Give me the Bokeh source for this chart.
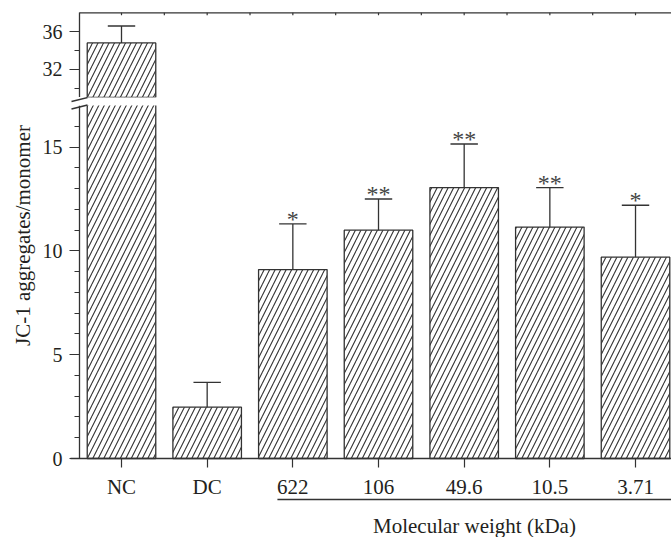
import math
from bokeh.plotting import figure
from bokeh.layouts import column
from bokeh.models import (Range1d, FixedTicker, ColumnDataSource, CDSView,
                          BooleanFilter, BoxAnnotation)
from bokeh.core.properties import value
from bokeh.embed import file_html
from bokeh.resources import INLINE

# ---- data ----
categories = ["NC", "DC", "622", "106", "49.6", "10.5", "3.71"]
means = [34.8, 2.47, 9.1, 11.0, 13.05, 11.15, 9.7]
sd = [1.8, 1.2, 2.2, 1.5, 2.1, 1.9, 2.5]
signif = ["", "", "*", "**", "**", "**", "*"]
upper_major = [32, 36]
upper_minor = [30, 34]
lower_major = [0, 5, 10, 15]
lower_minor = [1, 2, 3, 4, 6, 7, 8, 9, 11, 12, 13, 14, 16]
y_title = "JC-1 aggregates/monomer"
x_group_title = "Molecular weight (kDa)"
mw_first = "622"

# ---- layout / style ----
FONT = "Liberation Serif"
INK = "#333333"
TXT = "#231f20"
PAGE_W, PAGE_H = 671, 537
XAXIS_START = 70            # page x where the x axis line starts
AXIS_X = 79                 # page x of the y axis line
CAT0_X, CAT_STEP = 121, 85.67
X0 = -CAT0_X / CAT_STEP
X1 = X0 + PAGE_W / CAT_STEP
UP_TOP, UP_BOT = 10, 97     # page y of upper frame
UP_RANGE = (29, 38.25)
UP_AXIS_TOP = 38
LOW_BOT = 458               # page y of value 0
BREAK_VAL = 17              # lower axis ends here
LOW_SCALE = 20.76           # px per unit on the lower segment
LOW_RANGE = (-(PAGE_H - LOW_BOT) / LOW_SCALE, (LOW_BOT - UP_BOT) / LOW_SCALE)

SY_UP = (UP_BOT - UP_TOP) / (UP_RANGE[1] - UP_RANGE[0])


def px_x(px):
    return X0 + px / CAT_STEP


def px_ylow(py):
    return (LOW_BOT - py) / LOW_SCALE


xs = list(range(len(categories)))
src = ColumnDataSource(dict(
    x=xs, top=means, err=[m + s for m, s in zip(means, sd)],
    cl=[i - 0.16 for i in xs], cr=[i + 0.16 for i in xs], star=signif))
xr = Range1d(X0, X1)
AXIS_LOC = px_x(AXIS_X)


def style_axis(ax, size):
    ax.axis_line_color = INK
    ax.axis_line_width = 1.3
    ax.major_tick_line_color = INK
    ax.minor_tick_line_color = INK
    ax.major_tick_line_width = 1.2
    ax.minor_tick_line_width = 1.2
    ax.major_tick_in = 0
    ax.minor_tick_in = 0
    ax.major_label_text_font = FONT
    ax.major_label_text_font_size = size
    ax.major_label_text_color = TXT


def style_yaxis(ya, major, minor, bounds):
    ya.ticker = FixedTicker(ticks=major, minor_ticks=minor)
    ya.fixed_location = AXIS_LOC
    ya.bounds = bounds
    style_axis(ya, "20px")
    ya.major_tick_out = 10
    ya.minor_tick_out = 5
    ya.major_label_standoff = 7


def make(height, yr, top, view=None):
    p = figure(width=PAGE_W, height=height, x_range=xr, y_range=Range1d(*yr),
               output_backend="svg", toolbar_location=None,
               min_border_left=0, min_border_right=0,
               min_border_top=top, min_border_bottom=0)
    p.outline_line_color = None
    p.xgrid.visible = False
    p.ygrid.visible = False
    kw = {} if view is None else {"view": view}
    p.vbar(x="x", top="top", bottom=0, width=0.8, source=src,
           fill_color="white", line_color=INK, line_width=1.3,
           hatch_pattern="/", hatch_color=INK, hatch_scale=11, hatch_weight=1.1, **kw)
    p.segment(x0="x", y0="top", x1="x", y1="err", source=src,
              line_color=INK, line_width=1.3, **kw)
    p.segment(x0="cl", y0="err", x1="cr", y1="err", source=src,
              line_color=INK, line_width=1.3, **kw)
    return p


# ---- upper segment ----
up_view = CDSView(filter=BooleanFilter([m > UP_RANGE[0] for m in means]))
up = make(UP_BOT, UP_RANGE, UP_TOP, up_view)
up.xaxis.visible = False
style_yaxis(up.yaxis[0], upper_major, upper_minor, (UP_RANGE[0], UP_AXIS_TOP))
# top frame line with its small ticks
half = [i * 0.5 for i in range(0, 2 * len(categories) - 1)]
up.segment(x0=[AXIS_LOC], y0=[UP_AXIS_TOP], x1=[X1], y1=[UP_AXIS_TOP],
           line_color=INK, line_width=1.3)
up.segment(x0=half, y0=[UP_AXIS_TOP] * len(half), x1=half,
           y1=[UP_AXIS_TOP - 2.5 / SY_UP] * len(half), line_color=INK, line_width=1.2)

# ---- lower segment (also holds the axis titles) ----
low = make(PAGE_H - UP_BOT, LOW_RANGE, 0)
style_yaxis(low.yaxis[0], lower_major, lower_minor, (0, BREAK_VAL))
xb = low.xaxis[0]
xb.ticker = FixedTicker(ticks=xs, minor_ticks=[])
xb.major_label_overrides = {i: c for i, c in zip(xs, categories)}
xb.fixed_location = 0
xb.bounds = (px_x(XAXIS_START), X1)
style_axis(xb, "21px")
xb.major_tick_out = 9
xb.major_label_standoff = 7

# white-out the break gap, then draw the break marks over it
low.add_layout(BoxAnnotation(bottom=BREAK_VAL, fill_color="white", fill_alpha=1.0,
                             line_alpha=0))
for y0 in (101, 108.5):
    low.segment(x0=[px_x(71)], y0=[px_ylow(y0)], x1=[px_x(87)], y1=[px_ylow(y0 - 4)],
                line_color=INK, line_width=1.3, level="overlay")

low.text(x="x", y="err", text="star", source=src, text_font=value(FONT),
         text_font_size="24px", text_align="center", text_baseline="alphabetic",
         y_offset=-5, text_color="#444444")

# group underline and title
ul_start = categories.index(mw_first) - 0.18
low.segment(x0=[ul_start], y0=[px_ylow(499)], x1=[X1], y1=[px_ylow(499)],
            line_color=INK, line_width=1.3)
low.text(x=[(ul_start + X1) / 2], y=[px_ylow(525)], text=[x_group_title],
         text_font=value(FONT), text_font_size="21px", text_align="center",
         text_baseline="middle", text_color=TXT)

# y title
low.text(x=[px_x(22)], y=[px_ylow((UP_TOP + 2 + LOW_BOT) / 2)], text=[y_title],
         angle=math.pi / 2, text_font=value(FONT), text_font_size="21px",
         text_align="center", text_baseline="middle", text_color=TXT)

layout = column(up, low, spacing=0)
open("out.html", "w").write(file_html(layout, INLINE))
